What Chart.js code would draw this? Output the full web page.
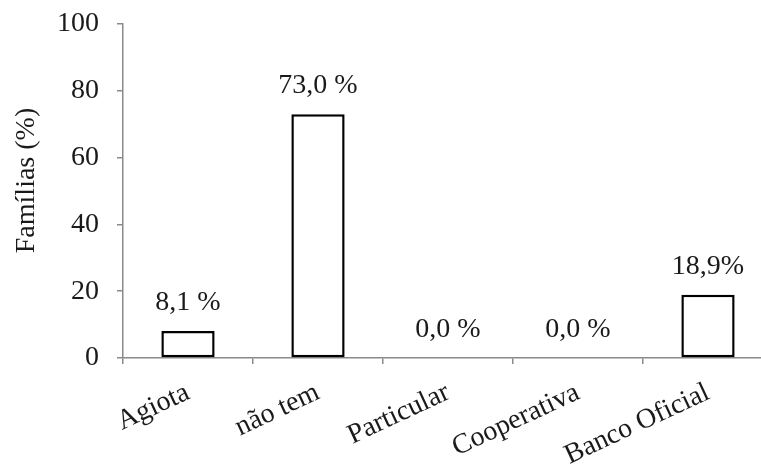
<!DOCTYPE html>
<html>
<head>
<meta charset="utf-8">
<script src="https://cdn.jsdelivr.net/npm/chart.js@4/dist/chart.umd.min.js"></script>
<style>
  html, body { margin: 0; padding: 0; background: #fff; overflow: hidden; width: 761px; height: 470px; }
  #wrap { width: 775px; height: 470px; position: relative; }
</style>
</head>
<body>
<div id="wrap"><canvas id="c"></canvas></div>
<script>
const categories = ["Agiota", "não tem", "Particular", "Cooperativa", "Banco Oficial"];
const values = [8.1, 73.0, 0.0, 0.0, 18.9];
const valueLabels = ["8,1 %", "73,0 %", "0,0 %", "0,0 %", "18,9%"];
const yTicks = [0, 20, 40, 60, 80, 100];
const yTitle = "Famílias (%)";

const FONT = "'Liberation Serif', 'Times New Roman', serif";
const AXIS = "#8a8a8a";
const TEXT = "#1a1a1a";

const valueLabelPlugin = {
  id: "valueLabels",
  afterDatasetsDraw(chart) {
    const ctx = chart.ctx;
    const meta = chart.getDatasetMeta(0);
    ctx.save();
    ctx.font = "28px " + FONT;
    ctx.fillStyle = TEXT;
    ctx.textAlign = "center";
    ctx.textBaseline = "alphabetic";
    meta.data.forEach((el, i) => {
      ctx.fillText(valueLabels[i], el.x, el.y - 21);
    });
    ctx.restore();
  }
};

new Chart(document.getElementById("c"), {
  type: "bar",
  data: {
    labels: categories,
    datasets: [{
      data: values,
      backgroundColor: "#ffffff",
      borderColor: "#000000",
      borderWidth: 2.5,
      borderSkipped: false,
      barPercentage: 0.41,
      categoryPercentage: 1.0
    }]
  },
  options: {
    responsive: true,
    maintainAspectRatio: false,
    animation: false,
    layout: { padding: { left: 0, right: 2, top: 24, bottom: 0 } },
    plugins: { legend: { display: false }, tooltip: { enabled: false } },
    scales: {
      x: {
        offset: true,
        grid: {
          offset: true,
          drawOnChartArea: false,
          drawTicks: true,
          tickLength: 6,
          color: AXIS,
          lineWidth: 1.5
        },
        border: { display: true, color: AXIS, width: 1.5 },
        ticks: {
          color: TEXT,
          font: { family: FONT, size: 28 },
          maxRotation: 25,
          minRotation: 25,
          padding: 12,
          autoSkip: false
        },
        afterFit(scale) { scale.height = 112; scale.paddingLeft = 0; scale.paddingRight = 0; }
      },
      y: {
        min: 0,
        max: 100,
        afterBuildTicks(scale) { scale.ticks = yTicks.map(v => ({ value: v })); },
        grid: {
          drawOnChartArea: false,
          drawTicks: true,
          tickLength: 6,
          color: AXIS,
          lineWidth: 1.5
        },
        border: { display: true, color: AXIS, width: 1.5 },
        ticks: {
          color: TEXT,
          font: { family: FONT, size: 28 },
          padding: 18
        },
        title: {
          display: true,
          text: "\u00a0\u00a0\u00a0" + yTitle,
          color: TEXT,
          font: { family: FONT, size: 28 },
          padding: { top: 10, bottom: 0 }
        },
        afterFit(scale) { scale.width = 123; scale.paddingTop = 0; scale.paddingBottom = 0; }
      }
    }
  },
  plugins: [valueLabelPlugin]
});
</script>
</body>
</html>
